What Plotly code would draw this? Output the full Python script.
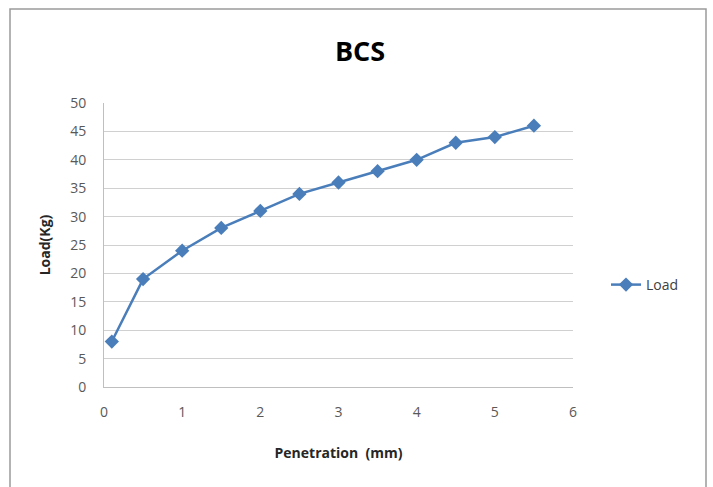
import plotly.graph_objects as go

penetration = [0.1, 0.5, 1, 1.5, 2, 2.5, 3, 3.5, 4, 4.5, 5, 5.5]
load = [8, 19, 24, 28, 31, 34, 36, 38, 40, 43, 44, 46]
x_ticks = [0, 1, 2, 3, 4, 5, 6]
y_ticks = [0, 5, 10, 15, 20, 25, 30, 35, 40, 45, 50]

W, H = 713, 487
L, R, T, B = 104, 573, 103, 387

fig = go.Figure()
fig.add_trace(go.Scatter(
    x=penetration, y=load, mode="lines+markers", name="Load",
    line=dict(color="#4a7ebb", width=2.5),
    marker=dict(symbol="diamond", size=11, color="#4a7ebb"),
))

font = "Open Sans, Liberation Sans, sans-serif"
fig.update_layout(
    width=W, height=H,
    margin=dict(l=L, r=W - R, t=T, b=H - B, pad=0),
    paper_bgcolor="white", plot_bgcolor="white",
    font=dict(family=font, color="#595959", size=13),
    title=dict(text="<b>BCS</b>", x=360 / W, xanchor="center",
               y=1 - 52 / H, yanchor="middle",
               font=dict(size=27, color="#000000", family=font)),
    showlegend=True,
    legend=dict(x=(606 - L) / (R - L), xanchor="left", y=(B - 285) / (B - T),
                yanchor="middle", font=dict(size=14, color="#404040"),
                bgcolor="rgba(0,0,0,0)", itemwidth=30),
    xaxis=dict(range=[0, 6], tickvals=x_ticks, showgrid=False, zeroline=False,
               showline=True, linecolor="#bfbfbf", linewidth=1,
               ticks="", ticklabelstandoff=12, tickfont=dict(size=14),
               title=dict(text="<b>Penetration  (mm)</b>", standoff=28,
                          font=dict(size=14, color="#262626"))),
    yaxis=dict(range=[0, 50], tickvals=y_ticks, showgrid=True,
               gridcolor="#d0d0d0", gridwidth=1, zeroline=False,
               showline=True, linecolor="#bfbfbf", linewidth=1,
               ticks="", ticklabelstandoff=14, tickfont=dict(size=14),
               title=dict(text="<b>Load(Kg)</b>", standoff=16,
                          font=dict(size=14, color="#262626"))),
)

# outer chart border
fig.add_shape(type="rect", xref="paper", yref="paper",
              x0=(10 - L) / (R - L), x1=(706 - L) / (R - L),
              y0=(B - 520) / (B - T), y1=(B - 9) / (B - T),
              line=dict(color="#9a9a9a", width=1.5), fillcolor="rgba(0,0,0,0)",
              layer="below")

fig.write_html("out.html")
